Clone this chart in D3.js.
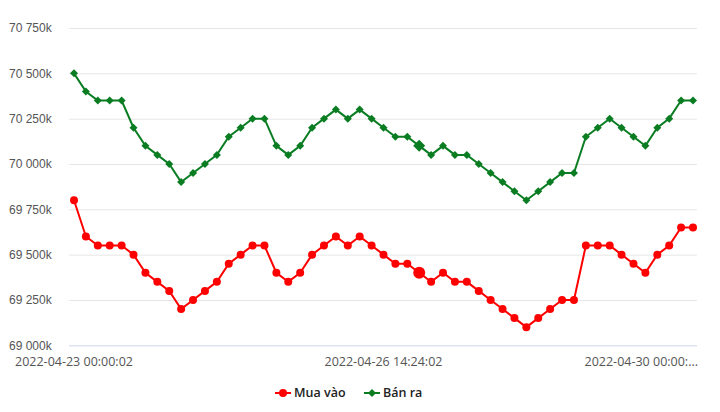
<!DOCTYPE html>
<html><head><meta charset="utf-8">
<script src="https://cdn.jsdelivr.net/npm/d3@7"></script>
<style>body{margin:0;background:#fff}svg{display:block;font-family:"Open Sans",sans-serif}</style>
</head><body><div id="c"></div>
<script>
const buyValues = [69800,69600,69550,69550,69550,69500,69400,69350,69300,69200,69250,69300,69350,69450,69500,69550,69550,69400,69350,69400,69500,69550,69600,69550,69600,69550,69500,69450,69450,69400,69350,69400,69350,69350,69300,69250,69200,69150,69100,69150,69200,69250,69250,69550,69550,69550,69500,69450,69400,69500,69550,69650,69650];
const sellValues = [70500,70400,70350,70350,70350,70200,70100,70050,70000,69900,69950,70000,70050,70150,70200,70250,70250,70100,70050,70100,70200,70250,70300,70250,70300,70250,70200,70150,70150,70100,70050,70100,70050,70050,70000,69950,69900,69850,69800,69850,69900,69950,69950,70150,70200,70250,70200,70150,70100,70200,70250,70350,70350];
const xTickIndex = [0,26,52];
const xTickLabels = ["2022-04-23 00:00:02","2022-04-26 14:24:02","2022-04-30 00:00:02"];
const yTicks = [69000,69250,69500,69750,70000,70250,70500,70750];
const seriesNames = ["Mua vào","Bán ra"];
const hoverIndex = 29;

const W=720,H=412;
const svg=d3.select("#c").append("svg").attr("width",W).attr("height",H);
const x=d3.scalePoint().domain(d3.range(buyValues.length)).range([74,693]);
const y=d3.scaleLinear().domain([69000,70750]).range([345.3,28]);
const fmt=v=>d3.format(",")(v).replace(/,/g," ")+"k";

// grid
const yAxis=d3.axisLeft(y).tickValues(yTicks).tickSize(-(697-69)).tickFormat(fmt);
const gy=svg.append("g").attr("transform","translate(69,0)").call(yAxis);
gy.select(".domain").remove();
gy.selectAll(".tick line").attr("stroke","#e6e6e6");
gy.selectAll(".tick").filter(d=>d===69000).select("line").attr("stroke","#ccd6eb");
gy.selectAll(".tick text").attr("x",-60).attr("text-anchor","start").attr("fill","#555").style("font-size","12px").attr("dy","0.32em");

// x axis labels
const gx=svg.append("g");
xTickIndex.forEach((idx,i)=>{
  const t=gx.append("text").attr("x",x(idx)).attr("y",362).attr("text-anchor","middle")
    .attr("fill","#555").style("font-size","12.5px").attr("dy","0.32em").text(xTickLabels[i]);
  let bb=t.node().getBBox();
  if(bb.x+bb.width>698){
    t.attr("text-anchor","end").attr("x",698);
    let s=xTickLabels[i];
    while(t.node().getBBox().width>114 && s.length>1){s=s.slice(0,-1);t.text(s+"...");}
  }
});

const line=d3.line().x((d,i)=>x(i)).y(d=>y(d));
const colors=["#ff0000","#0a7d22"];
const diamond=r=>`M0,${-r}L${r},0L0,${r}L${-r},0Z`;

[[sellValues,1],[buyValues,0]].forEach(([vals,k])=>{
  svg.append("path").datum(vals).attr("d",line).attr("fill","none").attr("stroke",colors[k]).attr("stroke-width",2);
  const g=svg.append("g");
  vals.forEach((v,i)=>{
    const r=(i===hoverIndex)?6:4;
    if(k===0) g.append("circle").attr("cx",x(i)).attr("cy",y(v)).attr("r",r).attr("fill",colors[k]);
    else g.append("path").attr("transform",`translate(${x(i)},${y(v)})`).attr("d",diamond(r)).attr("fill",colors[k]);
  });
});

// legend
const lg=svg.append("g");
const items=[{x:275,k:0},{x:364,k:1}];
items.forEach(it=>{
  lg.append("line").attr("x1",it.x).attr("x2",it.x+16).attr("y1",393).attr("y2",393).attr("stroke",colors[it.k]).attr("stroke-width",2);
  if(it.k===0) lg.append("circle").attr("cx",it.x+8).attr("cy",393).attr("r",4).attr("fill",colors[0]);
  else lg.append("path").attr("transform",`translate(${it.x+8},393)`).attr("d",diamond(4)).attr("fill",colors[1]);
  lg.append("text").attr("x",it.x+19).attr("y",393).attr("dy","0.35em").attr("fill","#222").style("font-size","12.5px").style("font-weight","600").text(seriesNames[it.k]);
});
</script></body></html>
